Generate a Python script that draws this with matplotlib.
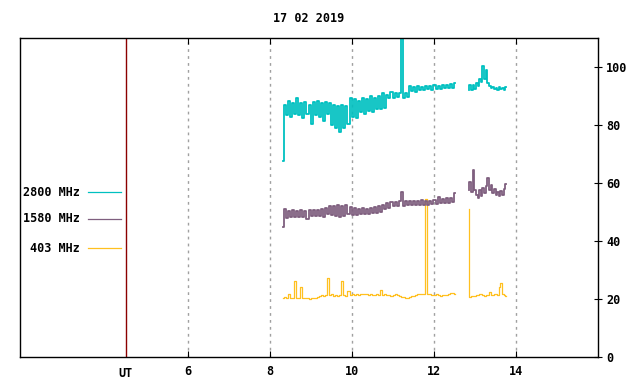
import numpy as np
import matplotlib.pyplot as plt
from matplotlib.lines import Line2D

# Times in UT hours; each series recorded in two segments with a gap
seg1_start, seg1_end = 8.31, 12.51
seg2_start, seg2_end = 12.84, 13.76

f2800_a = [67.5, 87, 83.5, 88.5, 83, 87.5, 84, 89.5, 83.5, 87.5, 82.5, 88, 84, 87, 80.5,
           88, 83.5, 88.5, 83, 87.5, 81.5, 88, 84, 87.5, 80, 87, 79, 86.5, 77.5, 87,
           79, 86.5, 80.5, 89.5, 83, 89, 82.5, 88.5, 84.5, 89.5, 84, 89, 85, 90, 84.5,
           89.5, 85.5, 90, 85.5, 91, 86, 90.5, 89.5, 91.5, 89.5, 91, 89.8, 91.2, 112, 89.5,
           91, 89.8, 93.5, 91.8, 93.2, 91.6, 93.5, 92.2, 93.3, 92, 93.6, 92.4, 93.4, 92.3, 93.8,
           92.5, 93.6, 92.6, 94, 92.7, 93.9, 92.9, 94.3, 93, 94.5]
f2800_b = [92, 94, 92.2, 93.8, 92.5, 94.5, 93.5, 96, 95, 100.5, 96, 99, 94.5, 93.5, 92.8,
           93.2, 92.5, 93, 92.3, 93.1, 92.4, 92.9, 92.2, 93.2]

f1580_a = [44.7, 51, 48, 50.5, 48.2, 50.6, 48.4, 50.4, 48.3, 50.8, 48.2, 50.5, 47.8, 50.6, 48.5,
           50.8, 48.7, 50.7, 48.6, 51.2, 48.4, 51.5, 49.2, 52, 49, 52.2, 48.5, 52.4, 48.3, 52,
           48.8, 52.5, 49.2, 51.7, 49, 51.5, 49.1, 51.2, 49.3, 51.4, 49.5, 51.2, 49.4, 51.6, 49.6,
           51.9, 49.8, 52, 50, 52.3, 51, 53.2, 51.6, 53.4, 52, 53.6, 52.2, 53.8, 56.9, 52.2,
           53.8, 52.4, 53.9, 52.3, 54, 52.5, 53.8, 52.4, 54.1, 52.5, 53.9, 52.6, 54, 52.7, 54.2,
           52.8, 55.3, 53, 54.6, 53.2, 54.8, 53.3, 55, 53.6, 56.5]
f1580_b = [57.5, 60.3, 57, 64.6, 57.5, 56, 54.8, 57.5, 55.5, 58.5, 56.5, 59, 61.8, 57.5, 59.5,
           56.5, 58, 55.8, 57, 55.5, 57.2, 56, 58, 59.8]

f403_a = [20.2, 20.6, 20.3, 21.8, 20.3, 20.5, 26.3, 20.2, 20.5, 24.3, 20.4, 20.2, 20.3, 20.1, 20.4,
          20.2, 20.5, 20.6, 21.0, 21.3, 21.2, 21.5, 27.4, 21.4, 21.6, 21.2, 21.5, 21.0, 21.3, 26.3,
          21.4, 21.2, 22.8, 21.4, 21.6, 21.5, 21.7, 21.3, 21.6, 21.8, 21.9, 21.6, 21.5, 21.7, 21.4,
          21.5, 21.6, 21.3, 23.2, 21.4, 21.6, 21.3, 21.5, 21.2, 21.4, 21.6, 21.3, 21.0, 20.8, 20.6,
          20.5, 20.4, 20.6, 20.9, 21.2, 21.5, 21.7, 21.9, 21.8, 21.9, 54.5, 21.8, 21.7, 21.5, 21.3,
          21.6, 21.4, 21.2, 21.4, 21.3, 21.5, 21.7, 22.0, 22.1, 21.6]
f403_b = [51, 20.8, 20.9, 21.1, 21.0, 21.3, 21.5, 21.9, 21.8, 21.3, 21.0, 21.4, 21.3, 22.6, 21.5,
          21.3, 21.6, 21.9, 21.5, 24.1, 25.5, 21.6, 21.3, 21.2]

labels = ["2800 MHz", "1580 MHz", "403 MHz"]
colors = ["#00c0c0", "#7f5f7f", "#ffc020"]
xticks = [6, 8, 10, 12, 14]
yticks = [0, 20, 40, 60, 80, 100]
ut_line = 4.47

mono = {"family": "DejaVu Sans Mono", "weight": "bold", "size": 8.5}

fig = plt.figure(figsize=(6.4, 3.84), dpi=100)
ax = fig.add_axes([20.3 / 640, 27 / 384, 577.7 / 640, 318.7 / 384])

t1 = np.linspace(seg1_start, seg1_end, len(f2800_a))
t2 = np.linspace(seg2_start, seg2_end, len(f2800_b))
series = [(f403_a, f403_b, colors[2], 0.9),
          (f1580_a, f1580_b, colors[1], 1.3),
          (f2800_a, f2800_b, colors[0], 1.3)]
for a, b, c, w in series:
    ax.plot(t1, a, color=c, lw=w, drawstyle="steps-mid")
    ax.plot(t2, b, color=c, lw=w, drawstyle="steps-mid")

for x in xticks:
    ax.axvline(x, color="#a0a0a0", lw=1, ls=(0, (2, 3)), zorder=0)
ax.axvline(ut_line, color="#8b0000", lw=1)

ax.set_xlim(1.9, 16)
ax.set_ylim(0, 110)
ax.set_xticks(xticks)
ax.set_yticks(yticks)
ax.yaxis.tick_right()
ax.tick_params(axis="x", direction="in", top=True, bottom=True, length=4, pad=6)
ax.tick_params(axis="y", direction="inout", right=True, left=False, length=6, pad=3)
for lab in ax.get_xticklabels() + ax.get_yticklabels():
    lab.set_fontproperties(mono)
for sp in ax.spines.values():
    sp.set_linewidth(1)

ax.text(ut_line, -3.5, "UT", ha="center", va="top", fontdict=mono)
fig.text(309 / 640, 1 - 18 / 384, "17 02 2019", ha="center", va="center", fontdict=mono)

rows = [192, 219, 248]
for lab, c, y in zip(labels, colors, rows):
    yf = 1 - y / 384
    fig.text(80 / 640, yf, lab, ha="right", va="center", fontdict=mono)
    fig.add_artist(Line2D([88 / 640, 121 / 640], [yf, yf], color=c, lw=0.9))

fig.savefig("out.png", dpi=100)
